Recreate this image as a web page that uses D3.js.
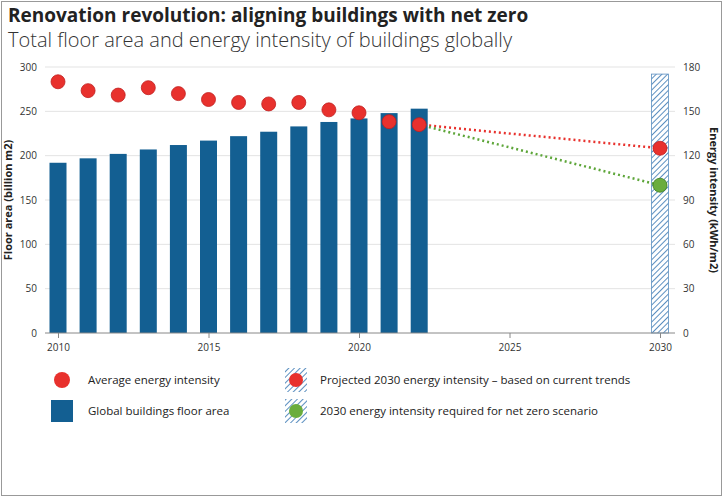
<!DOCTYPE html>
<html><head><meta charset="utf-8">
<script src="https://cdn.jsdelivr.net/npm/d3@7"></script>
<style>body{margin:0;background:#fff;font-family:"Open Sans",sans-serif;}</style>
</head><body>
<svg id="chart" width="725" height="500"></svg>
<script>
// 建築面積（十億平方米）與能源強度（kWh/m2）
const floorArea = [
  { year: 2010, area: 192 }, { year: 2011, area: 197 }, { year: 2012, area: 202 },
  { year: 2013, area: 207 }, { year: 2014, area: 212 }, { year: 2015, area: 217 },
  { year: 2016, area: 222 }, { year: 2017, area: 227 }, { year: 2018, area: 233 },
  { year: 2019, area: 238 }, { year: 2020, area: 242 }, { year: 2021, area: 248 },
  { year: 2022, area: 253 }
];
const intensity = [
  { year: 2010, v: 170 }, { year: 2011, v: 164 }, { year: 2012, v: 161 },
  { year: 2013, v: 166 }, { year: 2014, v: 162 }, { year: 2015, v: 158 },
  { year: 2016, v: 156 }, { year: 2017, v: 155 }, { year: 2018, v: 156 },
  { year: 2019, v: 151 }, { year: 2020, v: 149 }, { year: 2021, v: 143 },
  { year: 2022, v: 141 }
];
const projected = { year: 2030, area: 292, current: 125, netZero: 100 };

const svg = d3.select('#chart');
const blue = '#135f92';

svg.append('rect').attr('x', 1.5).attr('y', 1.5).attr('width', 720).attr('height', 494)
  .attr('fill', 'none').attr('stroke', '#999');

const defs = svg.append('defs');
const pat = defs.append('pattern').attr('id', 'hatch').attr('width', 4).attr('height', 4)
  .attr('patternUnits', 'userSpaceOnUse').attr('patternTransform', 'rotate(45)');
pat.append('rect').attr('width', 4).attr('height', 4).attr('fill', '#fff');
pat.append('line').attr('x1', 0).attr('y1', 0).attr('x2', 0).attr('y2', 4)
  .attr('stroke', '#5b8fc0').attr('stroke-width', 2);

svg.append('text').attr('x', 8).attr('y', 22).attr('font-size', 19).attr('font-weight', 'bold')
  .attr('fill', '#222').text('Renovation revolution: aligning buildings with net zero');
svg.append('text').attr('x', 8).attr('y', 47).attr('font-size', 20).attr('font-weight', 300)
  .attr('fill', '#333').text('Total floor area and energy intensity of buildings globally');

const x = d3.scaleLinear().domain([2010, 2030]).range([58, 660]);
const yL = d3.scaleLinear().domain([0, 300]).range([333, 67]);
const yR = d3.scaleLinear().domain([0, 180]).range([333, 67]);

// 格線
svg.append('g').selectAll('line').data(d3.range(50, 301, 50)).join('line')
  .attr('x1', 45).attr('x2', 675).attr('y1', d => yL(d)).attr('y2', d => yL(d))
  .attr('stroke', '#e3e3e3');

const axL = svg.append('g').attr('transform', 'translate(45,0)')
  .call(d3.axisLeft(yL).tickValues(d3.range(0, 301, 50)).tickSize(0).tickPadding(8));
const axR = svg.append('g').attr('transform', 'translate(675,0)')
  .call(d3.axisRight(yR).tickValues(d3.range(0, 181, 30)).tickSize(0).tickPadding(8));
[axL, axR].forEach(a => { a.select('.domain').remove(); a.selectAll('text').attr('font-size', 10).attr('fill', '#333').attr('font-family', 'Open Sans'); });

const barW = 17;
svg.append('g').selectAll('rect').data(floorArea).join('rect')
  .attr('x', d => x(d.year) - barW / 2).attr('y', d => yL(d.area))
  .attr('width', barW).attr('height', d => yL(0) - yL(d.area)).attr('fill', blue);
svg.append('rect').attr('x', x(2030) - barW / 2).attr('y', yL(projected.area))
  .attr('width', barW).attr('height', yL(0) - yL(projected.area))
  .attr('fill', 'url(#hatch)').attr('stroke', '#5b8fc0').attr('stroke-width', 0.8);

const axB = svg.append('g').attr('transform', 'translate(0,333)')
  .call(d3.axisBottom(x).tickValues([2010, 2015, 2020, 2025, 2030]).tickFormat(d3.format('d')).tickSize(5).tickPadding(6));
axB.select('.domain').attr('d', 'M45,0H675').attr('stroke', '#888');
axB.selectAll('line').attr('stroke', '#888');
axB.selectAll('text').attr('font-size', 10).attr('fill', '#333').attr('font-family', 'Open Sans');

svg.append('text').attr('transform', 'translate(12,200) rotate(-90)').attr('text-anchor', 'middle')
  .attr('font-size', 11).attr('font-weight', 'bold').attr('fill', '#222').text('Floor area (billion m2)');
svg.append('text').attr('transform', 'translate(710,200) rotate(90)').attr('text-anchor', 'middle')
  .attr('font-size', 11).attr('font-weight', 'bold').attr('fill', '#222').text('Energy intensity (kWh/m2)');

// 預測虛線
const last = intensity[intensity.length - 1];
svg.append('line').attr('x1', x(last.year)).attr('y1', yR(last.v)).attr('x2', x(2030)).attr('y2', yR(projected.current))
  .attr('stroke', '#e8312d').attr('stroke-width', 2.5).attr('stroke-dasharray', '2,3');
svg.append('line').attr('x1', x(last.year)).attr('y1', yR(last.v)).attr('x2', x(2030)).attr('y2', yR(projected.netZero))
  .attr('stroke', '#5ea63a').attr('stroke-width', 2.5).attr('stroke-dasharray', '2,3');

svg.append('g').selectAll('circle').data(intensity).join('circle')
  .attr('cx', d => x(d.year)).attr('cy', d => yR(d.v)).attr('r', 7)
  .attr('fill', '#e8312d').attr('stroke', '#c02020').attr('stroke-width', 0.8);
svg.append('circle').attr('cx', x(2030)).attr('cy', yR(projected.current)).attr('r', 7)
  .attr('fill', '#e8312d').attr('stroke', '#c02020').attr('stroke-width', 0.8);
svg.append('circle').attr('cx', x(2030)).attr('cy', yR(projected.netZero)).attr('r', 7)
  .attr('fill', '#6aad3d').attr('stroke', '#3f7f25').attr('stroke-width', 0.8);

// 圖例
const lg = svg.append('g').attr('font-size', 11.5).attr('fill', '#222');
lg.append('circle').attr('cx', 62).attr('cy', 380).attr('r', 8).attr('fill', '#e8312d');
lg.append('text').attr('x', 88).attr('y', 384).text('Average energy intensity');
lg.append('rect').attr('x', 51).attr('y', 400).attr('width', 22).attr('height', 22).attr('fill', blue);
lg.append('text').attr('x', 88).attr('y', 415).text('Global buildings floor area');
[[380, '#e8312d', 'Projected 2030 energy intensity – based on current trends'],
 [411, '#6aad3d', '2030 energy intensity required for net zero scenario']].forEach(([cy, c, t]) => {
  lg.append('rect').attr('x', 285).attr('y', cy - 12).attr('width', 22).attr('height', 24)
    .attr('fill', 'url(#hatch)');
  lg.append('circle').attr('cx', 296).attr('cy', cy).attr('r', 7).attr('fill', c);
  lg.append('text').attr('x', 320).attr('y', cy + 4).text(t);
});
</script>
</body></html>
